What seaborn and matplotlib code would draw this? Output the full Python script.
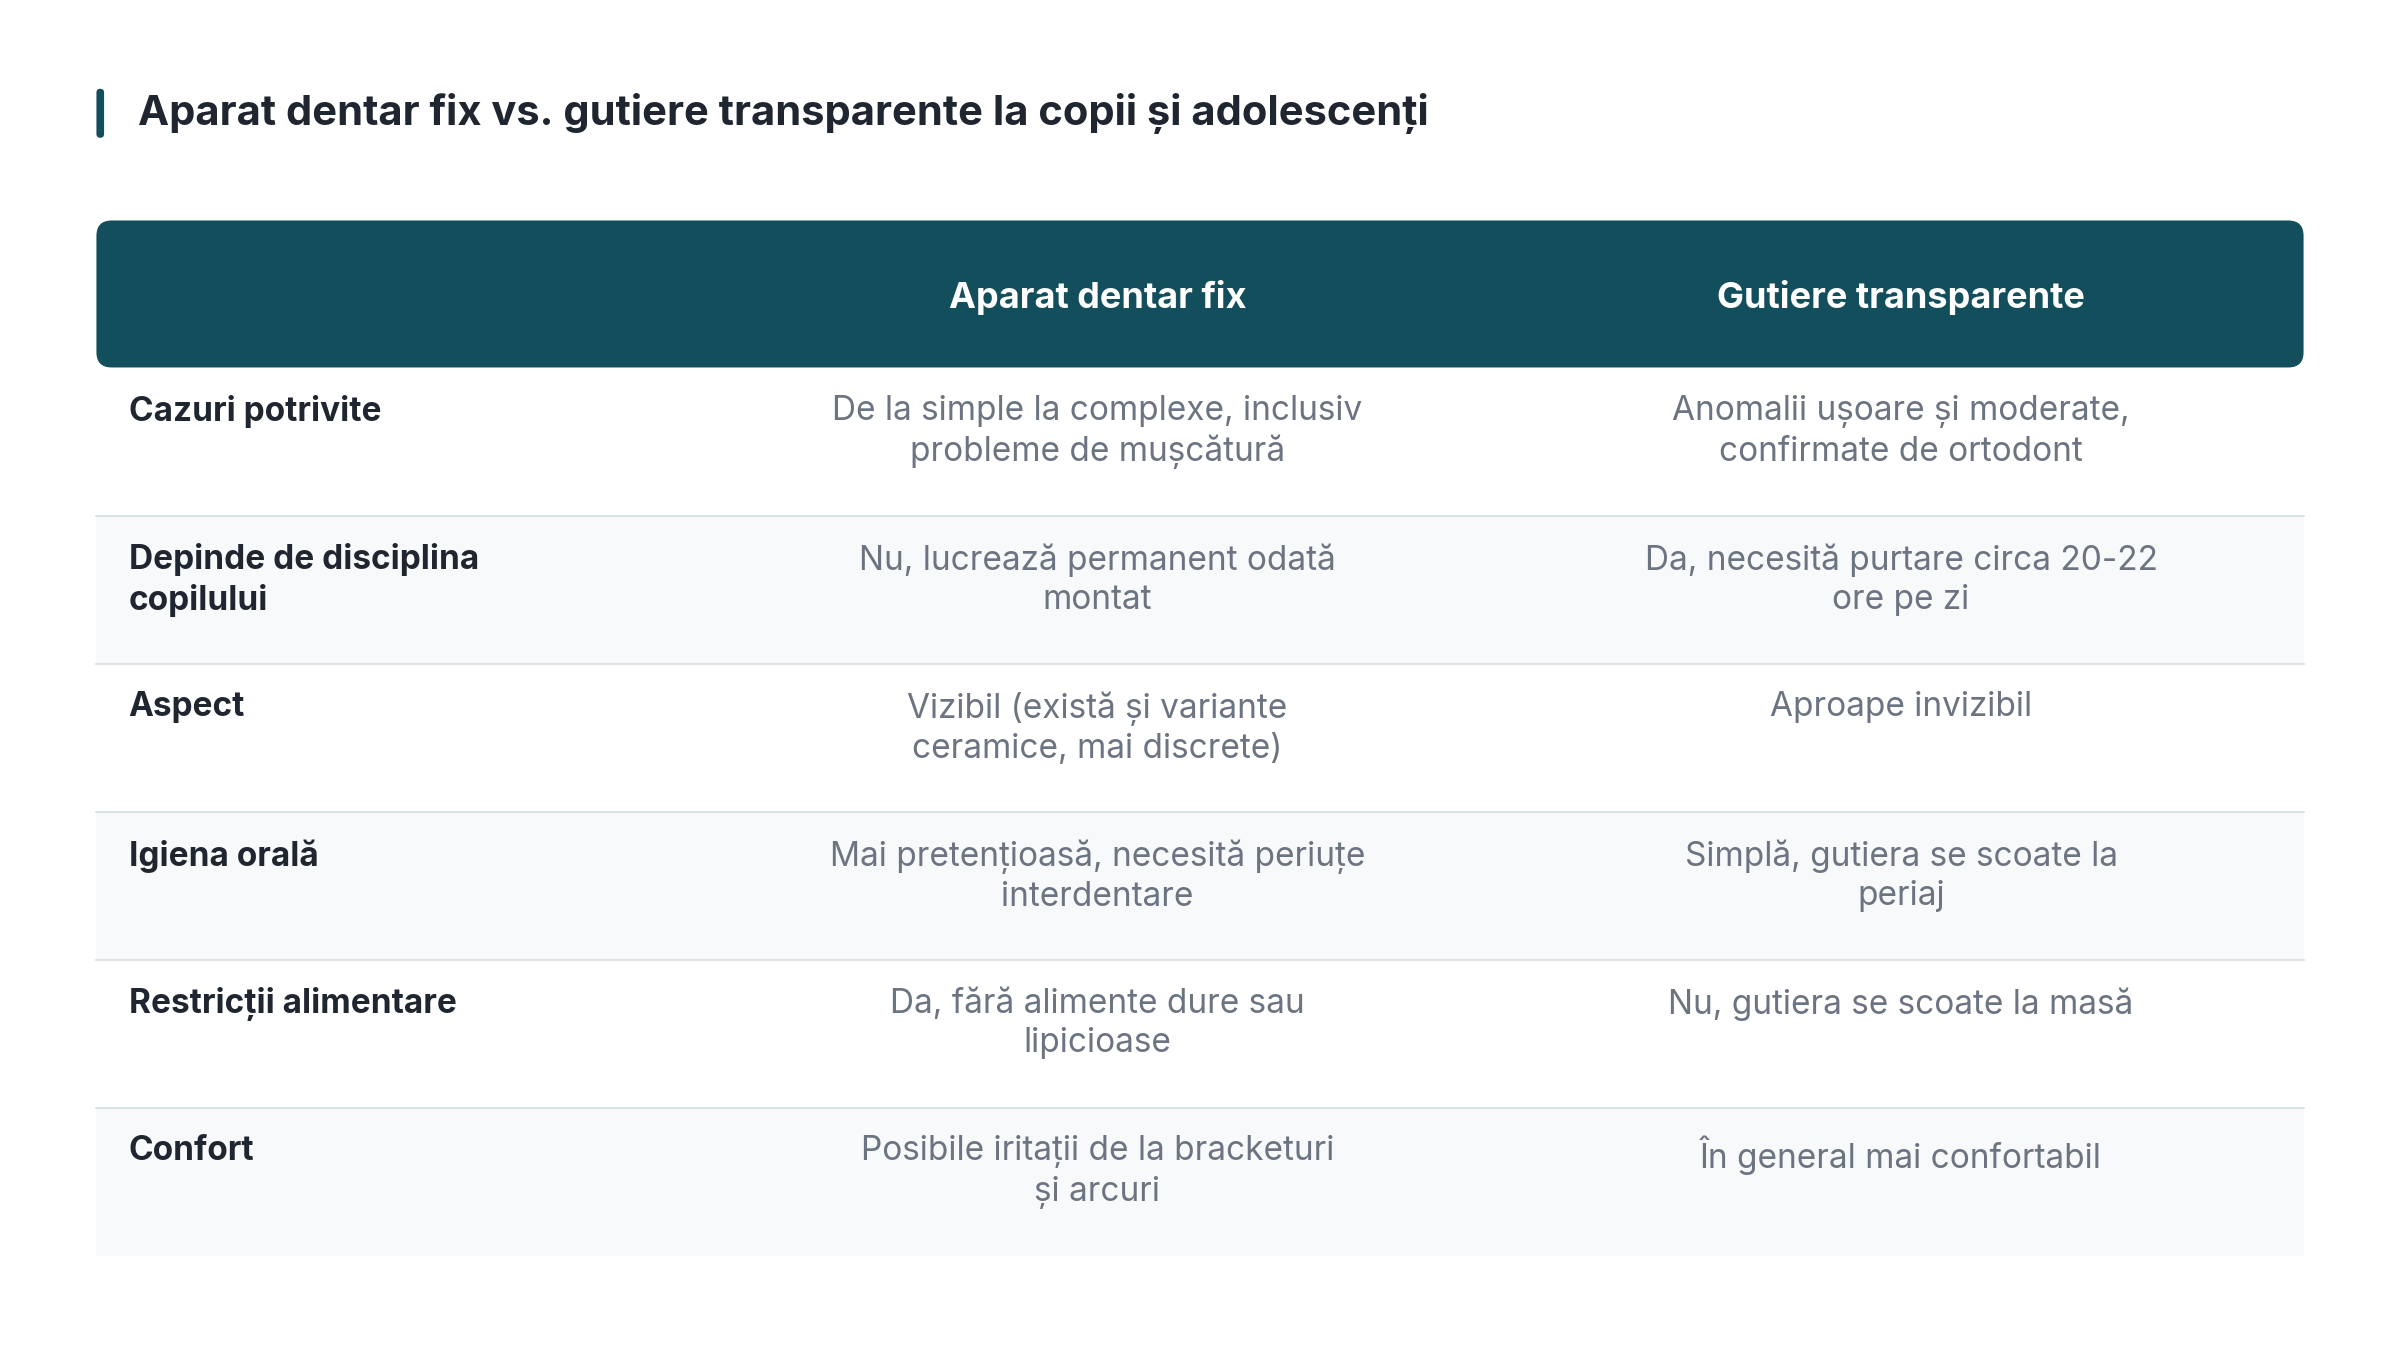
import matplotlib.pyplot as plt
import seaborn as sns
from matplotlib.patches import FancyBboxPatch, Rectangle

sns.set_style("white")
plt.rcParams['font.family'] = ['Inter', 'DejaVu Sans']

title = "Aparat dentar fix vs. gutiere transparente la copii și adolescenți"
columns = ["Aparat dentar fix", "Gutiere transparente"]
criteria = ["Cazuri potrivite", "Depinde de disciplina\ncopilului", "Aspect",
            "Igiena orală", "Restricții alimentare", "Confort"]
fixed = ["De la simple la complexe, inclusiv\nprobleme de mușcătură",
         "Nu, lucrează permanent odată\nmontat",
         "Vizibil (există și variante\nceramice, mai discrete)",
         "Mai pretențioasă, necesită periuțe\ninterdentare",
         "Da, fără alimente dure sau\nlipicioase",
         "Posibile iritații de la bracketuri\nși arcuri"]
aligners = ["Anomalii ușoare și moderate,\nconfirmate de ortodont",
            "Da, necesită purtare circa 20-22\nore pe zi",
            "Aproape invizibil",
            "Simplă, gutiera se scoate la\nperiaj",
            "Nu, gutiera se scoate la masă",
            "În general mai confortabil"]

W, H = 1568, 883
fig = plt.figure(figsize=(24, 13.52), dpi=100)
ax = fig.add_axes([0, 0, 1, 1])
ax.set_xlim(0, W)
ax.set_ylim(H, 0)
ax.axis("off")

dark = "#124E5C"
left, right = 63, 1505
col_x = [717, 1242]

# title
ax.add_patch(FancyBboxPatch((63, 58), 5, 32, boxstyle="round,pad=0,rounding_size=2.5",
                            color=dark, lw=0))
ax.text(90, 74, title, fontsize=30, fontweight="bold", color="#1F2630", va="center")

# header
ax.add_patch(FancyBboxPatch((left, 144), right - left, 96,
                            boxstyle="round,pad=0,rounding_size=10", color=dark, lw=0))
for x, c in zip(col_x, columns):
    ax.text(x, 194, c, fontsize=26, fontweight="bold", color="white", ha="center", va="center")

row_h = 96.7
top = 240
for i, (c, a, b) in enumerate(zip(criteria, fixed, aligners)):
    y0 = top + i * row_h
    if i % 2 == 1:
        ax.add_patch(Rectangle((left, y0), right - left, row_h, color="#F7F9FA", lw=0))
    if i > 0:
        ax.plot([left, right], [y0, y0], color="#DDE2E6", lw=1.5)
    ax.text(84, y0 + 18, c, fontsize=24, fontweight="bold", color="#1F2630",
            va="top", linespacing=1.3)
    for x, t in zip(col_x, (a, b)):
        ax.text(x, y0 + 18, t, fontsize=24, color="#6B7480", ha="center",
                va="top", linespacing=1.3)

fig.savefig("out.png", dpi=100, facecolor="white")
